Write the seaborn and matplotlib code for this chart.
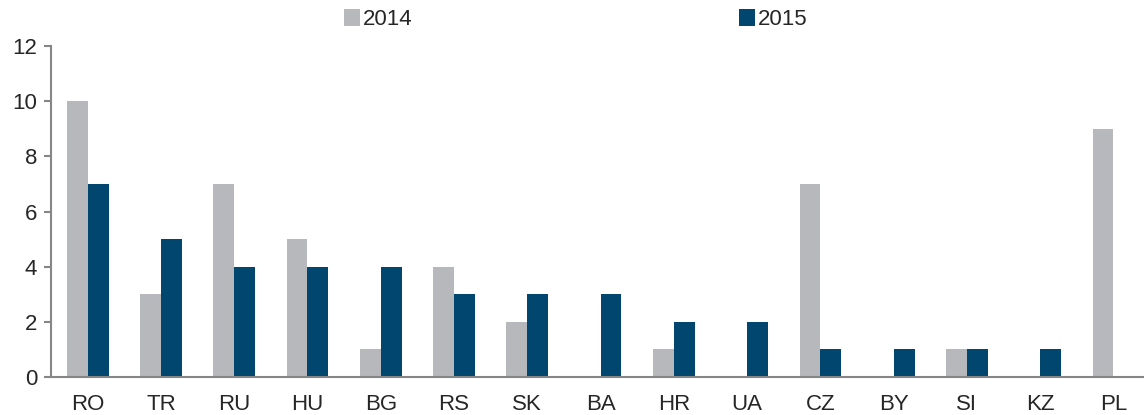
import pandas as pd
import seaborn as sns
from matplotlib import pyplot as plt

countries = ["RO", "TR", "RU", "HU", "BG", "RS", "SK", "BA", "HR", "UA", "CZ", "BY", "SI", "KZ", "PL"]
values_2014 = [10, 3, 7, 5, 1, 4, 2, 0, 1, 0, 7, 0, 1, 0, 9]
values_2015 = [7, 5, 4, 4, 4, 3, 3, 3, 2, 2, 1, 1, 1, 1, 0]
years = ["2014", "2015"]
colors = ["#B7B8BB", "#00466F"]

sns.set_style("white")
plt.rcParams['font.family'] = ['Liberation Sans', 'DejaVu Sans']

df = pd.DataFrame({
    "country": countries * 2,
    "value": values_2014 + values_2015,
    "year": [years[0]] * len(countries) + [years[1]] * len(countries),
})

fig = plt.figure(figsize=(11.44, 4.15), dpi=100)
ax = fig.add_axes([0.0446, 0.0916, 0.955, 0.797])
sns.barplot(data=df, x="country", y="value", hue="year", palette=colors,
            width=0.57, gap=0, saturation=1, linewidth=0, ax=ax)

ax.set_ylim(0, 12)
ax.set_yticks(range(0, 13, 2))
ax.set_xlim(-0.5, 14.41)
ax.set_xlabel("")
ax.set_ylabel("")
for s in ["top", "right"]:
    ax.spines[s].set_visible(False)
for s in ["left", "bottom"]:
    ax.spines[s].set_color("#868686")
    ax.spines[s].set_linewidth(1.5)
ax.tick_params(axis="y", left=True, length=5, width=1.5, color="#868686", labelsize=16, pad=5)
ax.tick_params(axis="x", bottom=False, labelsize=16, pad=9)

leg = ax.legend(loc="center", bbox_to_anchor=(0.48, 1.08), ncol=2, frameon=False,
                fontsize=16, handlelength=0.75, handleheight=0.75, handletextpad=0.1,
                columnspacing=14.7)

plt.savefig("out.png", dpi=100)
